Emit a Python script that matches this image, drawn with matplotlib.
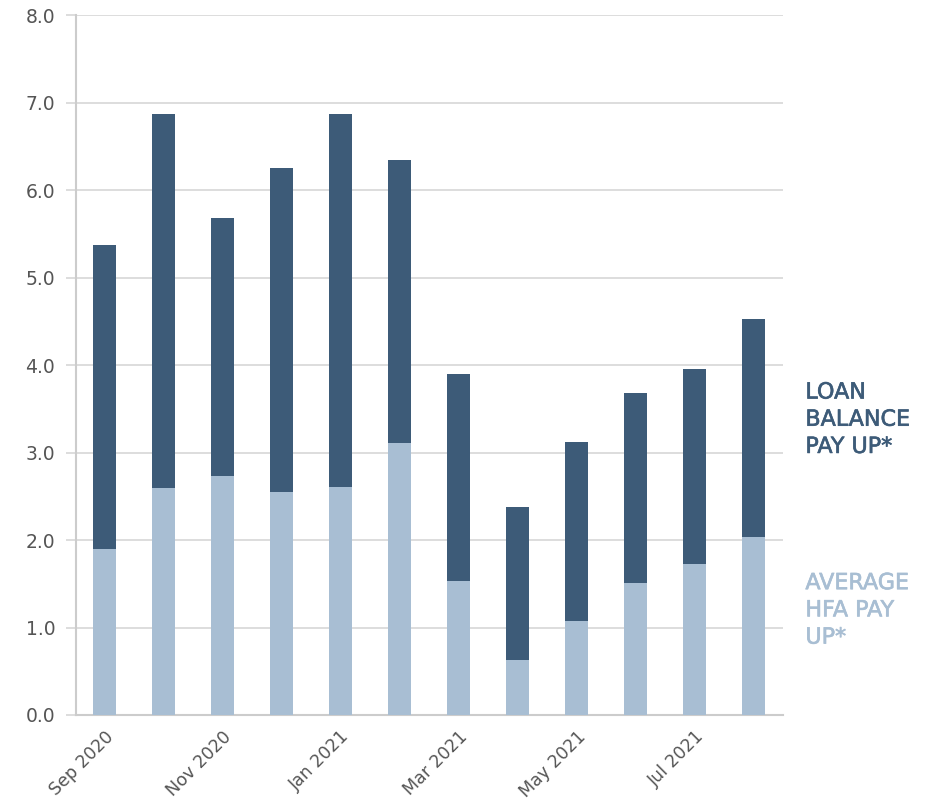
import numpy as np
import matplotlib.pyplot as plt
import matplotlib.patheffects as pe

plt.rcParams['font.family'] = ['DejaVu Sans']

months = ['Sep 2020', 'Oct 2020', 'Nov 2020', 'Dec 2020', 'Jan 2021', 'Feb 2021',
          'Mar 2021', 'Apr 2021', 'May 2021', 'Jun 2021', 'Jul 2021', 'Aug 2021']
hfa_pay_up = [1.90, 2.59, 2.73, 2.55, 2.61, 3.11, 1.53, 0.63, 1.07, 1.51, 1.73, 2.03]
total_pay_up = [5.37, 6.87, 5.68, 6.25, 6.87, 6.34, 3.90, 2.38, 3.12, 3.68, 3.95, 4.53]
loan_balance_pay_up = [t - h for t, h in zip(total_pay_up, hfa_pay_up)]

DARK = '#3d5b78'
LIGHT = '#a8bed3'
GRID = '#dadada'
TEXT = '#555555'

fig = plt.figure(figsize=(9.3, 8.01), dpi=100)
ax = fig.add_axes([0.0817, 0.1074, 0.760, 0.8736])

x = np.arange(len(months))
ax.bar(x, hfa_pay_up, width=0.39, color=LIGHT, zorder=3)
ax.bar(x, loan_balance_pay_up, width=0.39, bottom=hfa_pay_up, color=DARK, zorder=3)

ax.set_ylim(0, 8)
ax.set_xlim(-0.48, 11.49)
ax.set_yticks(np.arange(0, 8.1, 1.0))
ax.set_yticklabels([f'{v:.1f}' for v in np.arange(0, 8.1, 1.0)])
ax.yaxis.grid(True, color=GRID, linewidth=1.3, zorder=0)

ax.set_xticks(x[::2])
ax.set_xticklabels(months[::2], rotation=45, ha='right', rotation_mode='anchor')

ax.tick_params(axis='y', length=7, width=1.3, color=GRID, labelsize=13.5,
               labelcolor=TEXT, pad=8)
ax.tick_params(axis='x', length=0, labelsize=12.5, labelcolor=TEXT, pad=9)

for side in ['top', 'right']:
    ax.spines[side].set_visible(False)
for side in ['left', 'bottom']:
    ax.spines[side].set_color('#cccccc')
    ax.spines[side].set_linewidth(1.5)

# series labels at right, slightly heavier than regular weight
fig.text(0.866, 0.476, 'LOAN\nBALANCE\nPAY UP*', color=DARK, fontsize=16,
         va='center', ha='left', linespacing=1.45,
         path_effects=[pe.withStroke(linewidth=0.45, foreground=DARK)])
fig.text(0.866, 0.238, 'AVERAGE\nHFA PAY\nUP*', color=LIGHT, fontsize=16,
         va='center', ha='left', linespacing=1.45,
         path_effects=[pe.withStroke(linewidth=0.45, foreground=LIGHT)])

fig.savefig('out.png', dpi=100, facecolor='white')
